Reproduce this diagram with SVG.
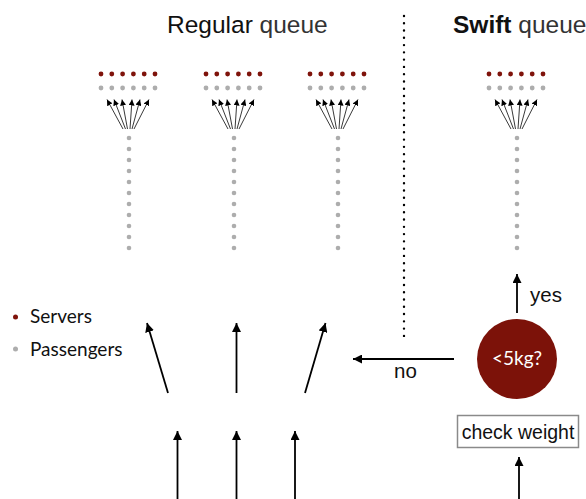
<svg xmlns="http://www.w3.org/2000/svg" width="586" height="499" viewBox="0 0 586 499">
<defs>
<style>
.h{font-family:"Liberation Sans",Arial,sans-serif;fill:#111}
.g{font-family:Lato,"Noto Sans",sans-serif;fill:#111}
.srv{fill:#7f130b}
.pas{fill:#adadad}
.ln{stroke:#000;stroke-width:1.8;fill:none}
.fan{stroke:#222;stroke-width:0.9;fill:none}
</style>
<marker id="ah" markerUnits="userSpaceOnUse" markerWidth="10" markerHeight="9" refX="9" refY="4.5" orient="auto">
<path d="M0,0 L9,4.5 L0,9 Z" fill="#000"/>
</marker>
<marker id="as" markerUnits="userSpaceOnUse" markerWidth="7" markerHeight="6" refX="6" refY="3" orient="auto">
<path d="M0,0 L6,3 L0,6 Z" fill="#000"/>
</marker>
<g id="fan">
<circle class="srv" cx="-28" cy="74" r="2.4"/><circle class="srv" cx="-17.2" cy="74" r="2.4"/><circle class="srv" cx="-6.4" cy="74" r="2.4"/><circle class="srv" cx="4.4" cy="74" r="2.4"/><circle class="srv" cx="15.2" cy="74" r="2.4"/><circle class="srv" cx="26" cy="74" r="2.4"/>
<circle class="pas" cx="-28" cy="88" r="2.4"/><circle class="pas" cx="-17.2" cy="88" r="2.4"/><circle class="pas" cx="-6.4" cy="88" r="2.4"/><circle class="pas" cx="4.4" cy="88" r="2.4"/><circle class="pas" cx="15.2" cy="88" r="2.4"/><circle class="pas" cx="26" cy="88" r="2.4"/>
<line class="fan" x1="-6" y1="129" x2="-22" y2="99.5" marker-end="url(#as)"/>
<line class="fan" x1="-3.5" y1="129" x2="-15" y2="99.5" marker-end="url(#as)"/>
<line class="fan" x1="-1.5" y1="129" x2="-7" y2="99.5" marker-end="url(#as)"/>
<line class="fan" x1="1" y1="129" x2="3" y2="99.5" marker-end="url(#as)"/>
<line class="fan" x1="3" y1="129" x2="11" y2="99.5" marker-end="url(#as)"/>
<line class="fan" x1="5" y1="129" x2="20" y2="99.5" marker-end="url(#as)"/>
<g class="pas">
<circle cx="0" cy="138" r="2.3"/><circle cx="0" cy="149" r="2.3"/><circle cx="0" cy="160" r="2.3"/><circle cx="0" cy="171" r="2.3"/><circle cx="0" cy="182" r="2.3"/><circle cx="0" cy="193" r="2.3"/><circle cx="0" cy="204" r="2.3"/><circle cx="0" cy="215" r="2.3"/><circle cx="0" cy="226" r="2.3"/><circle cx="0" cy="237" r="2.3"/><circle cx="0" cy="248" r="2.3"/>
</g>
</g>
</defs>
<rect width="586" height="499" fill="#fff"/>

<g id="titles">
<text class="h" x="167" y="33" font-size="24.5">Regular<tspan fill="#333"> queue</tspan></text>
<text class="h" x="453" y="33" font-size="24.5"><tspan font-weight="bold">Swift</tspan><tspan fill="#333"> queue</tspan></text>
</g>

<g id="divider">
<line x1="404" y1="16" x2="404" y2="343" stroke="#000" stroke-width="2.4" stroke-linecap="round" stroke-dasharray="0 7.27"/>
</g>

<g id="queue1"><use href="#fan" x="129"/></g>
<g id="queue2"><use href="#fan" x="234"/></g>
<g id="queue3"><use href="#fan" x="338"/></g>
<g id="swiftqueue"><use href="#fan" x="517"/></g>

<g id="legend">
<circle class="srv" cx="15.5" cy="317" r="2.5"/>
<text class="g" x="30" y="323" font-size="19">Servers</text>
<circle class="pas" cx="15.5" cy="349" r="2.5"/>
<text class="g" x="30" y="356" font-size="19">Passengers</text>
</g>

<g id="decision">
<circle cx="517" cy="359" r="40" fill="#7c1209"/>
<text class="g" x="517" y="365" font-size="19" text-anchor="middle" style="fill:#fff">&lt;5kg?</text>
</g>

<g id="checkweight">
<rect x="457.5" y="415.5" width="121" height="32" fill="#fff" stroke="#8a8a8a" stroke-width="1.5"/>
<text class="h" x="518" y="439" font-size="19.5" text-anchor="middle">check weight</text>
</g>

<g id="connectors">
<line class="ln" x1="168" y1="393" x2="147" y2="323" marker-end="url(#ah)"/>
<line class="ln" x1="236.5" y1="393" x2="236.5" y2="323" marker-end="url(#ah)"/>
<line class="ln" x1="305" y1="393" x2="325.5" y2="323" marker-end="url(#ah)"/>
<line class="ln" x1="177.5" y1="499" x2="177.5" y2="431" marker-end="url(#ah)"/>
<line class="ln" x1="236.5" y1="499" x2="236.5" y2="431" marker-end="url(#ah)"/>
<line class="ln" x1="295" y1="499" x2="295" y2="431" marker-end="url(#ah)"/>
<line class="ln" x1="519" y1="499" x2="519" y2="457" marker-end="url(#ah)"/>
<line class="ln" x1="454" y1="359" x2="353" y2="359" marker-end="url(#ah)"/>
<line class="ln" x1="517" y1="313" x2="517" y2="274" marker-end="url(#ah)"/>
<text class="h" x="394" y="378" font-size="20.5" fill="#333">no</text>
<text class="h" x="530" y="302" font-size="20.5" fill="#333">yes</text>
</g>
</svg>
